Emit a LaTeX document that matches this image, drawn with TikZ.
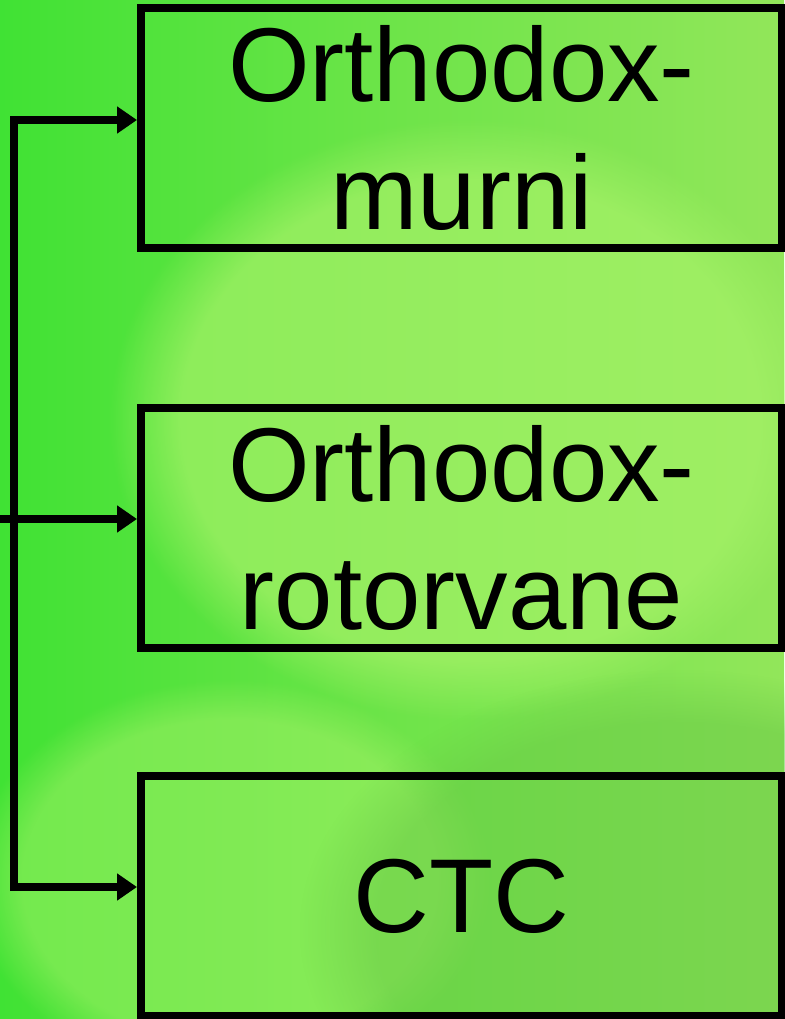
\documentclass[tikz,border=0pt]{standalone}
\usepackage{fontspec}
\setmainfont{Liberation Sans}
\usetikzlibrary{arrows.meta,fadings}
\definecolor{bgleft}{RGB}{64,226,52}
\definecolor{bgright}{RGB}{146,230,90}
\definecolor{bgmid}{RGB}{166,242,104}
\definecolor{bgdark}{RGB}{104,200,70}
\tikzset{
  boxnode/.style={draw=black, line width=8pt, minimum width=641pt, minimum height=240pt,
    inner sep=0pt, align=center, font=\fontsize{105}{128}\selectfont},
  conn/.style={draw=black, line width=8pt, line join=miter,
    -{Triangle[length=20pt,width=26pt]}},
}
\begin{document}
\begin{tikzpicture}[x=1pt,y=-1pt]
\useasboundingbox (0,0) rectangle (784,1019);
% background
\shade[left color=bgleft, right color=bgright, middle color={bgleft!45!bgright}] (0,0) rectangle (784,1019);
\fill[bgmid, path fading=circle with fuzzy edge 20 percent, opacity=0.7] (470,420) ellipse (360 and 300);
\fill[bgmid, path fading=circle with fuzzy edge 20 percent, opacity=0.5] (230,880) ellipse (260 and 200);
\fill[bgdark, path fading=circle with fuzzy edge 20 percent, opacity=0.5] (680,930) ellipse (380 and 260);
% boxes
\node[boxnode] (b1) at (461.5,128) {Orthodox-\\murni};
\node[boxnode] (b2) at (461.5,528) {Orthodox-\\rotorvane};
\node[boxnode] (b3) at (461.5,896) {CTC};
% connectors
\coordinate (t) at (14,120);
\coordinate (b) at (14,887);
\coordinate (s) at (0,519);
\draw[conn, {Triangle[length=20pt,width=26pt]}-{Triangle[length=20pt,width=26pt]}]
  (t -| b1.west) -- (t) -- (b) -- (b -| b3.west);
\draw[conn] (s) -- (s -| b2.west);
\end{tikzpicture}
\end{document}
